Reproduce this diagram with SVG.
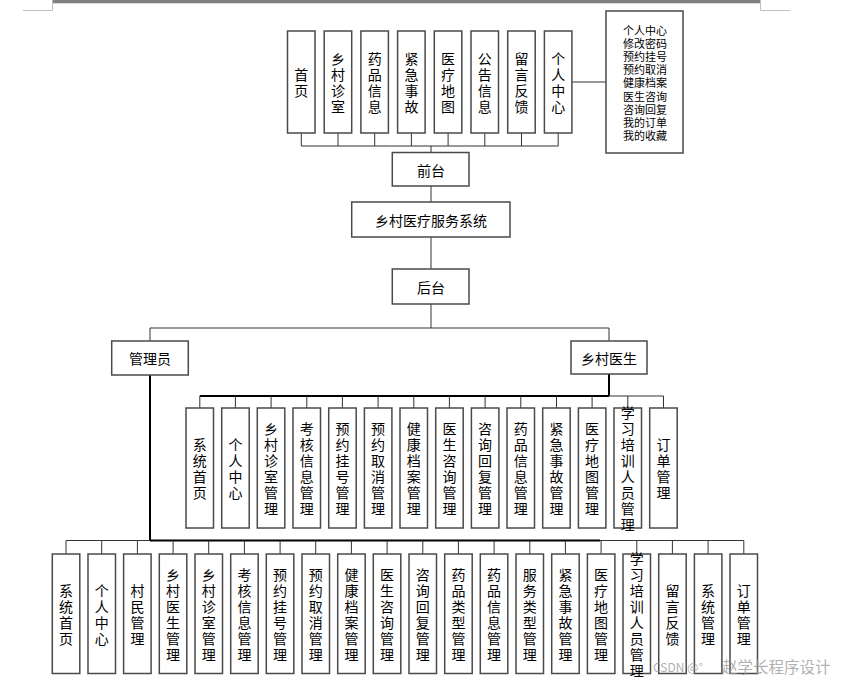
<svg xmlns="http://www.w3.org/2000/svg" width="844" height="684" viewBox="0 0 844 684">
<style>
.box{fill:#fff;stroke:#4a4a4a;stroke-width:1.5}
.t{font-family:"Noto Sans CJK SC","Noto Sans CJK JP",sans-serif;font-size:14px;fill:#000;text-anchor:middle;dominant-baseline:central}
.s{font-size:11px}
.ln{stroke:#333;stroke-width:1;fill:none}
.tk{stroke:#000;stroke-width:2;fill:none}
.wm{font-family:"Noto Sans CJK SC",sans-serif;fill:#9a9a9a;fill-opacity:0.8}
</style>
<rect x="52" y="0" width="708" height="3.3" fill="#808080"/>
<path d="M23 10.5H52.5V0M760.5 0V10.5H790" stroke="#c0c0c0" stroke-width="1" fill="none"/>
<g id="connectors">
<path class="ln" d="M301.3 133V146M338 133V146M374.7 133V146M411.4 133V146M448.1 133V146M484.8 133V146M521.5 133V146M558.2 133V146M301.3 146H558.2M431 146V152M571.9 82H606M431 186V202M431 237V269M431 304V328M150 328H609M150 328V341M609 328V341"/>
<path class="tk" d="M150 375V540.5M609 374V396M199.8 396H609M150 540.5H600"/>
<path class="ln" d="M609 396H663.5M66 540.5H150M600 540.5H743.8"/>
<path class="ln" d="M199.8 396V408M235.4 396V408M271.1 396V408M306.8 396V408M342.4 396V408M378.1 396V408M413.8 396V408M449.4 396V408M485.1 396V408M520.8 396V408M556.5 396V408M592.1 396V408M627.8 396V408M663.5 396V408"/>
<path class="ln" d="M66 540.5V554M101.7 540.5V554M137.4 540.5V554M173.1 540.5V554M208.7 540.5V554M244.4 540.5V554M280.1 540.5V554M315.7 540.5V554M351.4 540.5V554M387.1 540.5V554M422.8 540.5V554M458.4 540.5V554M494.1 540.5V554M529.8 540.5V554M565.4 540.5V554M601.1 540.5V554M636.8 540.5V554M672.4 540.5V554M708.1 540.5V554M743.8 540.5V554"/>
</g>
<!-- top row -->
<g id="top1"><rect class="box" x="287.5" y="31" width="27.5" height="102"/><text class="t"><tspan x="301.3" y="74">首</tspan><tspan x="301.3" y="90">页</tspan></text></g>
<g id="top2"><rect class="box" x="324.2" y="31" width="27.5" height="102"/><text class="t"><tspan x="338" y="58">乡</tspan><tspan x="338" y="74">村</tspan><tspan x="338" y="90">诊</tspan><tspan x="338" y="106">室</tspan></text></g>
<g id="top3"><rect class="box" x="360.9" y="31" width="27.5" height="102"/><text class="t"><tspan x="374.7" y="58">药</tspan><tspan x="374.7" y="74">品</tspan><tspan x="374.7" y="90">信</tspan><tspan x="374.7" y="106">息</tspan></text></g>
<g id="top4"><rect class="box" x="397.6" y="31" width="27.5" height="102"/><text class="t"><tspan x="411.4" y="58">紧</tspan><tspan x="411.4" y="74">急</tspan><tspan x="411.4" y="90">事</tspan><tspan x="411.4" y="106">故</tspan></text></g>
<g id="top5"><rect class="box" x="434.3" y="31" width="27.5" height="102"/><text class="t"><tspan x="448.1" y="58">医</tspan><tspan x="448.1" y="74">疗</tspan><tspan x="448.1" y="90">地</tspan><tspan x="448.1" y="106">图</tspan></text></g>
<g id="top6"><rect class="box" x="471" y="31" width="27.5" height="102"/><text class="t"><tspan x="484.8" y="58">公</tspan><tspan x="484.8" y="74">告</tspan><tspan x="484.8" y="90">信</tspan><tspan x="484.8" y="106">息</tspan></text></g>
<g id="top7"><rect class="box" x="507.7" y="31" width="27.5" height="102"/><text class="t"><tspan x="521.5" y="58">留</tspan><tspan x="521.5" y="74">言</tspan><tspan x="521.5" y="90">反</tspan><tspan x="521.5" y="106">馈</tspan></text></g>
<g id="top8"><rect class="box" x="544.4" y="31" width="27.5" height="102"/><text class="t"><tspan x="558.2" y="58">个</tspan><tspan x="558.2" y="74">人</tspan><tspan x="558.2" y="90">中</tspan><tspan x="558.2" y="106">心</tspan></text></g>
<g id="userlist"><rect class="box" x="606" y="11" width="77" height="142"/><text class="t s"><tspan x="645" y="30">个人中心</tspan><tspan x="645" y="43.1">修改密码</tspan><tspan x="645" y="56.2">预约挂号</tspan><tspan x="645" y="69.3">预约取消</tspan><tspan x="645" y="82.4">健康档案</tspan><tspan x="645" y="95.5">医生咨询</tspan><tspan x="645" y="108.6">咨询回复</tspan><tspan x="645" y="121.7">我的订单</tspan><tspan x="645" y="134.8">我的收藏</tspan></text></g>
<!-- middle -->
<g id="qiantai"><rect class="box" x="392.3" y="152.5" width="76.7" height="33.5"/><text class="t" x="431" y="169.5">前台</text></g>
<g id="system"><rect class="box" x="351.7" y="202" width="158.3" height="35"/><text class="t" x="431" y="219.5">乡村医疗服务系统</text></g>
<g id="houtai"><rect class="box" x="392.3" y="269" width="76.7" height="35"/><text class="t" x="431" y="286.5">后台</text></g>
<g id="admin"><rect class="box" x="111.7" y="341" width="76.6" height="34"/><text class="t" x="150" y="358">管理员</text></g>
<g id="doctor"><rect class="box" x="571" y="341" width="76" height="33"/><text class="t" x="609" y="357.5">乡村医生</text></g>
<!-- doctor row -->
<g id="d1"><rect class="box" x="186" y="408" width="27.5" height="120"/><text class="t"><tspan x="199.8" y="444">系</tspan><tspan x="199.8" y="460">统</tspan><tspan x="199.8" y="476">首</tspan><tspan x="199.8" y="492">页</tspan></text></g>
<g id="d2"><rect class="box" x="221.7" y="408" width="27.5" height="120"/><text class="t"><tspan x="235.4" y="444">个</tspan><tspan x="235.4" y="460">人</tspan><tspan x="235.4" y="476">中</tspan><tspan x="235.4" y="492">心</tspan></text></g>
<g id="d3"><rect class="box" x="257.3" y="408" width="27.5" height="120"/><text class="t"><tspan x="271.1" y="428">乡</tspan><tspan x="271.1" y="444">村</tspan><tspan x="271.1" y="460">诊</tspan><tspan x="271.1" y="476">室</tspan><tspan x="271.1" y="492">管</tspan><tspan x="271.1" y="508">理</tspan></text></g>
<g id="d4"><rect class="box" x="293" y="408" width="27.5" height="120"/><text class="t"><tspan x="306.8" y="428">考</tspan><tspan x="306.8" y="444">核</tspan><tspan x="306.8" y="460">信</tspan><tspan x="306.8" y="476">息</tspan><tspan x="306.8" y="492">管</tspan><tspan x="306.8" y="508">理</tspan></text></g>
<g id="d5"><rect class="box" x="328.7" y="408" width="27.5" height="120"/><text class="t"><tspan x="342.4" y="428">预</tspan><tspan x="342.4" y="444">约</tspan><tspan x="342.4" y="460">挂</tspan><tspan x="342.4" y="476">号</tspan><tspan x="342.4" y="492">管</tspan><tspan x="342.4" y="508">理</tspan></text></g>
<g id="d6"><rect class="box" x="364.4" y="408" width="27.5" height="120"/><text class="t"><tspan x="378.1" y="428">预</tspan><tspan x="378.1" y="444">约</tspan><tspan x="378.1" y="460">取</tspan><tspan x="378.1" y="476">消</tspan><tspan x="378.1" y="492">管</tspan><tspan x="378.1" y="508">理</tspan></text></g>
<g id="d7"><rect class="box" x="400" y="408" width="27.5" height="120"/><text class="t"><tspan x="413.8" y="428">健</tspan><tspan x="413.8" y="444">康</tspan><tspan x="413.8" y="460">档</tspan><tspan x="413.8" y="476">案</tspan><tspan x="413.8" y="492">管</tspan><tspan x="413.8" y="508">理</tspan></text></g>
<g id="d8"><rect class="box" x="435.7" y="408" width="27.5" height="120"/><text class="t"><tspan x="449.4" y="428">医</tspan><tspan x="449.4" y="444">生</tspan><tspan x="449.4" y="460">咨</tspan><tspan x="449.4" y="476">询</tspan><tspan x="449.4" y="492">管</tspan><tspan x="449.4" y="508">理</tspan></text></g>
<g id="d9"><rect class="box" x="471.4" y="408" width="27.5" height="120"/><text class="t"><tspan x="485.1" y="428">咨</tspan><tspan x="485.1" y="444">询</tspan><tspan x="485.1" y="460">回</tspan><tspan x="485.1" y="476">复</tspan><tspan x="485.1" y="492">管</tspan><tspan x="485.1" y="508">理</tspan></text></g>
<g id="d10"><rect class="box" x="507" y="408" width="27.5" height="120"/><text class="t"><tspan x="520.8" y="428">药</tspan><tspan x="520.8" y="444">品</tspan><tspan x="520.8" y="460">信</tspan><tspan x="520.8" y="476">息</tspan><tspan x="520.8" y="492">管</tspan><tspan x="520.8" y="508">理</tspan></text></g>
<g id="d11"><rect class="box" x="542.7" y="408" width="27.5" height="120"/><text class="t"><tspan x="556.5" y="428">紧</tspan><tspan x="556.5" y="444">急</tspan><tspan x="556.5" y="460">事</tspan><tspan x="556.5" y="476">故</tspan><tspan x="556.5" y="492">管</tspan><tspan x="556.5" y="508">理</tspan></text></g>
<g id="d12"><rect class="box" x="578.4" y="408" width="27.5" height="120"/><text class="t"><tspan x="592.1" y="428">医</tspan><tspan x="592.1" y="444">疗</tspan><tspan x="592.1" y="460">地</tspan><tspan x="592.1" y="476">图</tspan><tspan x="592.1" y="492">管</tspan><tspan x="592.1" y="508">理</tspan></text></g>
<g id="d13"><rect class="box" x="614" y="408" width="27.5" height="120"/><text class="t"><tspan x="627.8" y="412">学</tspan><tspan x="627.8" y="428">习</tspan><tspan x="627.8" y="444">培</tspan><tspan x="627.8" y="460">训</tspan><tspan x="627.8" y="476">人</tspan><tspan x="627.8" y="492">员</tspan><tspan x="627.8" y="508">管</tspan><tspan x="627.8" y="524">理</tspan></text></g>
<g id="d14"><rect class="box" x="649.7" y="408" width="27.5" height="120"/><text class="t"><tspan x="663.5" y="444">订</tspan><tspan x="663.5" y="460">单</tspan><tspan x="663.5" y="476">管</tspan><tspan x="663.5" y="492">理</tspan></text></g>
<!-- admin row -->
<g id="a1"><rect class="box" x="52.3" y="554" width="27.5" height="119.5"/><text class="t"><tspan x="66" y="589.5">系</tspan><tspan x="66" y="605.5">统</tspan><tspan x="66" y="621.5">首</tspan><tspan x="66" y="637.5">页</tspan></text></g>
<g id="a2"><rect class="box" x="88" y="554" width="27.5" height="119.5"/><text class="t"><tspan x="101.7" y="589.5">个</tspan><tspan x="101.7" y="605.5">人</tspan><tspan x="101.7" y="621.5">中</tspan><tspan x="101.7" y="637.5">心</tspan></text></g>
<g id="a3"><rect class="box" x="123.6" y="554" width="27.5" height="119.5"/><text class="t"><tspan x="137.4" y="589.5">村</tspan><tspan x="137.4" y="605.5">民</tspan><tspan x="137.4" y="621.5">管</tspan><tspan x="137.4" y="637.5">理</tspan></text></g>
<g id="a4"><rect class="box" x="159.3" y="554" width="27.5" height="119.5"/><text class="t"><tspan x="173.1" y="573.5">乡</tspan><tspan x="173.1" y="589.5">村</tspan><tspan x="173.1" y="605.5">医</tspan><tspan x="173.1" y="621.5">生</tspan><tspan x="173.1" y="637.5">管</tspan><tspan x="173.1" y="653.5">理</tspan></text></g>
<g id="a5"><rect class="box" x="195" y="554" width="27.5" height="119.5"/><text class="t"><tspan x="208.7" y="573.5">乡</tspan><tspan x="208.7" y="589.5">村</tspan><tspan x="208.7" y="605.5">诊</tspan><tspan x="208.7" y="621.5">室</tspan><tspan x="208.7" y="637.5">管</tspan><tspan x="208.7" y="653.5">理</tspan></text></g>
<g id="a6"><rect class="box" x="230.7" y="554" width="27.5" height="119.5"/><text class="t"><tspan x="244.4" y="573.5">考</tspan><tspan x="244.4" y="589.5">核</tspan><tspan x="244.4" y="605.5">信</tspan><tspan x="244.4" y="621.5">息</tspan><tspan x="244.4" y="637.5">管</tspan><tspan x="244.4" y="653.5">理</tspan></text></g>
<g id="a7"><rect class="box" x="266.3" y="554" width="27.5" height="119.5"/><text class="t"><tspan x="280.1" y="573.5">预</tspan><tspan x="280.1" y="589.5">约</tspan><tspan x="280.1" y="605.5">挂</tspan><tspan x="280.1" y="621.5">号</tspan><tspan x="280.1" y="637.5">管</tspan><tspan x="280.1" y="653.5">理</tspan></text></g>
<g id="a8"><rect class="box" x="302" y="554" width="27.5" height="119.5"/><text class="t"><tspan x="315.7" y="573.5">预</tspan><tspan x="315.7" y="589.5">约</tspan><tspan x="315.7" y="605.5">取</tspan><tspan x="315.7" y="621.5">消</tspan><tspan x="315.7" y="637.5">管</tspan><tspan x="315.7" y="653.5">理</tspan></text></g>
<g id="a9"><rect class="box" x="337.7" y="554" width="27.5" height="119.5"/><text class="t"><tspan x="351.4" y="573.5">健</tspan><tspan x="351.4" y="589.5">康</tspan><tspan x="351.4" y="605.5">档</tspan><tspan x="351.4" y="621.5">案</tspan><tspan x="351.4" y="637.5">管</tspan><tspan x="351.4" y="653.5">理</tspan></text></g>
<g id="a10"><rect class="box" x="373.3" y="554" width="27.5" height="119.5"/><text class="t"><tspan x="387.1" y="573.5">医</tspan><tspan x="387.1" y="589.5">生</tspan><tspan x="387.1" y="605.5">咨</tspan><tspan x="387.1" y="621.5">询</tspan><tspan x="387.1" y="637.5">管</tspan><tspan x="387.1" y="653.5">理</tspan></text></g>
<g id="a11"><rect class="box" x="409" y="554" width="27.5" height="119.5"/><text class="t"><tspan x="422.8" y="573.5">咨</tspan><tspan x="422.8" y="589.5">询</tspan><tspan x="422.8" y="605.5">回</tspan><tspan x="422.8" y="621.5">复</tspan><tspan x="422.8" y="637.5">管</tspan><tspan x="422.8" y="653.5">理</tspan></text></g>
<g id="a12"><rect class="box" x="444.7" y="554" width="27.5" height="119.5"/><text class="t"><tspan x="458.4" y="573.5">药</tspan><tspan x="458.4" y="589.5">品</tspan><tspan x="458.4" y="605.5">类</tspan><tspan x="458.4" y="621.5">型</tspan><tspan x="458.4" y="637.5">管</tspan><tspan x="458.4" y="653.5">理</tspan></text></g>
<g id="a13"><rect class="box" x="480.3" y="554" width="27.5" height="119.5"/><text class="t"><tspan x="494.1" y="573.5">药</tspan><tspan x="494.1" y="589.5">品</tspan><tspan x="494.1" y="605.5">信</tspan><tspan x="494.1" y="621.5">息</tspan><tspan x="494.1" y="637.5">管</tspan><tspan x="494.1" y="653.5">理</tspan></text></g>
<g id="a14"><rect class="box" x="516" y="554" width="27.5" height="119.5"/><text class="t"><tspan x="529.8" y="573.5">服</tspan><tspan x="529.8" y="589.5">务</tspan><tspan x="529.8" y="605.5">类</tspan><tspan x="529.8" y="621.5">型</tspan><tspan x="529.8" y="637.5">管</tspan><tspan x="529.8" y="653.5">理</tspan></text></g>
<g id="a15"><rect class="box" x="551.7" y="554" width="27.5" height="119.5"/><text class="t"><tspan x="565.4" y="573.5">紧</tspan><tspan x="565.4" y="589.5">急</tspan><tspan x="565.4" y="605.5">事</tspan><tspan x="565.4" y="621.5">故</tspan><tspan x="565.4" y="637.5">管</tspan><tspan x="565.4" y="653.5">理</tspan></text></g>
<g id="a16"><rect class="box" x="587.4" y="554" width="27.5" height="119.5"/><text class="t"><tspan x="601.1" y="573.5">医</tspan><tspan x="601.1" y="589.5">疗</tspan><tspan x="601.1" y="605.5">地</tspan><tspan x="601.1" y="621.5">图</tspan><tspan x="601.1" y="637.5">管</tspan><tspan x="601.1" y="653.5">理</tspan></text></g>
<g id="a17"><rect class="box" x="623" y="554" width="27.5" height="119.5"/><text class="t"><tspan x="636.8" y="557.5">学</tspan><tspan x="636.8" y="573.5">习</tspan><tspan x="636.8" y="589.5">培</tspan><tspan x="636.8" y="605.5">训</tspan><tspan x="636.8" y="621.5">人</tspan><tspan x="636.8" y="637.5">员</tspan><tspan x="636.8" y="653.5">管</tspan><tspan x="636.8" y="669.5">理</tspan></text></g>
<g id="a18"><rect class="box" x="658.7" y="554" width="27.5" height="119.5"/><text class="t"><tspan x="672.4" y="589.5">留</tspan><tspan x="672.4" y="605.5">言</tspan><tspan x="672.4" y="621.5">反</tspan><tspan x="672.4" y="637.5">馈</tspan></text></g>
<g id="a19"><rect class="box" x="694.4" y="554" width="27.5" height="119.5"/><text class="t"><tspan x="708.1" y="589.5">系</tspan><tspan x="708.1" y="605.5">统</tspan><tspan x="708.1" y="621.5">管</tspan><tspan x="708.1" y="637.5">理</tspan></text></g>
<g id="a20"><rect class="box" x="730" y="554" width="27.5" height="119.5"/><text class="t"><tspan x="743.8" y="589.5">订</tspan><tspan x="743.8" y="605.5">单</tspan><tspan x="743.8" y="621.5">管</tspan><tspan x="743.8" y="637.5">理</tspan></text></g>
<text class="wm" x="653" y="672" font-size="12">CSDN @°</text>
<text class="wm" x="722" y="673" font-size="15.5">赵学长程序设计</text>
</svg>
